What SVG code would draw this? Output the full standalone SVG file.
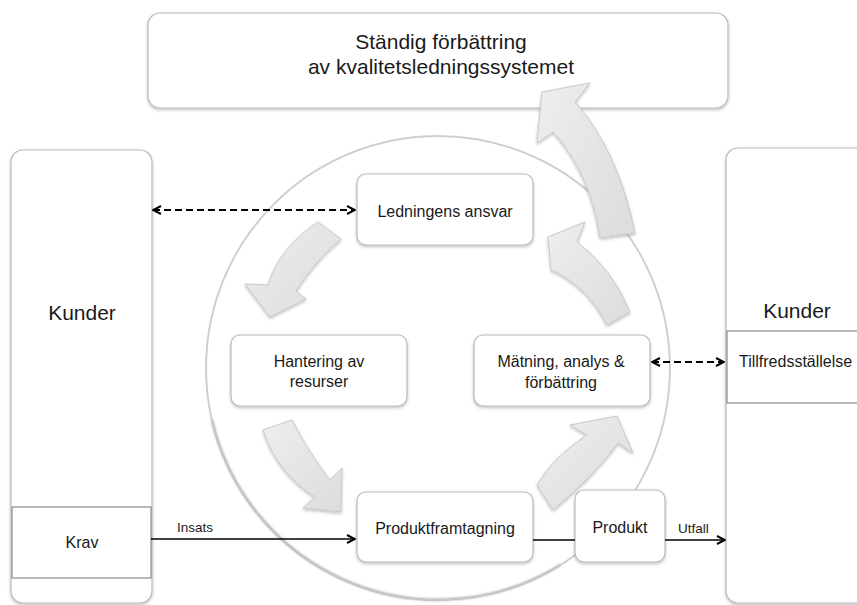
<svg xmlns="http://www.w3.org/2000/svg" width="857" height="605" viewBox="0 0 857 605">
<style>
text{font-family:"Liberation Sans",Arial,sans-serif;fill:#1a1a1a}
.big{font-size:21px}
.mid{font-size:16px}
.sm{font-size:13.5px}
.box{fill:#fff;stroke:#b9b9b9;stroke-width:1.2}
.sq{fill:#fff;stroke:#8a8a8a;stroke-width:1.2}
.blk{fill:url(#ag);stroke:#c8c8c8;stroke-width:1}
.ln{stroke:#000;stroke-width:1.6;fill:none}
.dash{stroke:#000;stroke-width:1.8;fill:none;stroke-dasharray:7 4}
</style>
<defs>
<filter id="sh" x="-10%" y="-10%" width="120%" height="125%">
<feDropShadow dx="0" dy="1.5" stdDeviation="1.5" flood-color="#000" flood-opacity="0.25"/>
</filter>
<filter id="bl" x="-10%" y="-10%" width="120%" height="120%">
<feGaussianBlur stdDeviation="1.2"/>
</filter>
<linearGradient id="ag" x1="0" y1="0" x2="1" y2="1">
<stop offset="0" stop-color="#eeeeee"/>
<stop offset="1" stop-color="#dcdcdc"/>
</linearGradient>
<marker id="ah" viewBox="0 0 10 10" refX="9" refY="5" markerWidth="10" markerHeight="10" markerUnits="userSpaceOnUse" orient="auto-start-reverse">
<path d="M1,1 L9,5 L1,9" fill="none" stroke="#000" stroke-width="2"/>
</marker>
</defs>

<g id="circle">
<circle cx="438" cy="368" r="232" fill="#fff" stroke="#d6d6d6" stroke-width="2"/>
<path d="M 212,420 A 232 232 0 0 0 560,565" fill="none" stroke="#a8a8a8" stroke-width="2" filter="url(#bl)"/>
<circle cx="438" cy="368" r="232" fill="none" stroke="#cccccc" stroke-width="1"/>
</g>

<g id="top">
<rect class="box" x="148" y="13" width="580" height="95" rx="12" filter="url(#sh)"/>
<text class="big" x="441" y="49" text-anchor="middle">Ständig förbättring</text>
<text class="big" x="441" y="74" text-anchor="middle">av kvalitetsledningssystemet</text>
</g>

<g id="kunder-left">
<rect class="box" x="11" y="150" width="141" height="453" rx="12" filter="url(#sh)"/>
<text class="big" x="82" y="320" text-anchor="middle">Kunder</text>
</g>
<g id="krav">
<rect class="sq" x="12" y="507" width="139" height="71"/>
<text class="mid" x="82" y="548" text-anchor="middle">Krav</text>
</g>

<g id="kunder-right">
<rect class="box" x="726" y="148" width="160" height="455" rx="12" filter="url(#sh)"/>
<text class="big" x="797" y="318" text-anchor="middle">Kunder</text>
</g>
<g id="tillfredsstallelse">
<rect class="sq" x="727" y="331" width="140" height="72"/>
<text class="mid" x="739" y="367">Tillfredsställelse</text>
</g>

<g id="block-arrows">
<path class="blk" filter="url(#sh)" d="M 318,222 L 341,239 Q 313,263 296,291 L 306,299 L 270,317 L 245,284 L 268,285 Q 280,247 318,222 Z"/>
<path class="blk" filter="url(#sh)" d="M 263,430 L 292,420 Q 307,450 330,480 L 342,468 L 341,512 L 303,508 L 315,497 Q 277,473 263,430 Z"/>
<path class="blk" filter="url(#sh)" d="M 537,485 Q 553,457 587,435 L 570,425 L 617,416 L 633,453 L 618,443 Q 593,477 553,510 Z"/>
<path class="blk" filter="url(#sh)" d="M 548,237 L 585,222 L 577,242 Q 612,268 630,312 L 607,325 Q 590,290 558,273 L 551,270 Z"/>
<path class="blk" filter="url(#sh)" d="M 537,143 L 542,92 L 590,83 L 575,102 Q 618,150 635,233 L 600,238 Q 590,172 553,132 Z"/>
</g>

<g id="ledningens-ansvar">
<rect class="box" x="357" y="174" width="176" height="71" rx="9" filter="url(#sh)"/>
<text class="mid" x="445" y="217" text-anchor="middle">Ledningens ansvar</text>
</g>
<g id="hantering">
<rect class="box" x="231" y="335" width="176" height="71" rx="9" filter="url(#sh)"/>
<text class="mid" x="319" y="367" text-anchor="middle">Hantering av</text>
<text class="mid" x="319" y="387" text-anchor="middle">resurser</text>
</g>
<g id="matning">
<rect class="box" x="474" y="335" width="176" height="71" rx="9" filter="url(#sh)"/>
<text class="mid" x="561" y="367" text-anchor="middle">Mätning, analys &amp;</text>
<text class="mid" x="561" y="388" text-anchor="middle">förbättring</text>
</g>
<g id="produktframtagning">
<rect class="box" x="357" y="492" width="176" height="70" rx="9" filter="url(#sh)"/>
<text class="mid" x="445" y="534" text-anchor="middle">Produktframtagning</text>
</g>
<g id="produkt">
<rect class="box" x="575" y="490" width="90" height="72" rx="9" filter="url(#sh)"/>
<text class="mid" x="620" y="533" text-anchor="middle">Produkt</text>
</g>

<g id="connectors">
<line class="dash" x1="153" y1="210" x2="355" y2="210" marker-start="url(#ah)" marker-end="url(#ah)"/>
<line class="dash" x1="652" y1="362" x2="724" y2="362" marker-start="url(#ah)" marker-end="url(#ah)"/>
<line class="ln" x1="151" y1="539" x2="355" y2="539" marker-end="url(#ah)"/>
<line class="ln" x1="533" y1="540" x2="575" y2="540"/>
<line class="ln" x1="665" y1="540" x2="725" y2="540" marker-end="url(#ah)"/>
<text class="sm" x="177" y="532">Insats</text>
<text class="sm" x="678" y="533">Utfall</text>
</g>
</svg>
